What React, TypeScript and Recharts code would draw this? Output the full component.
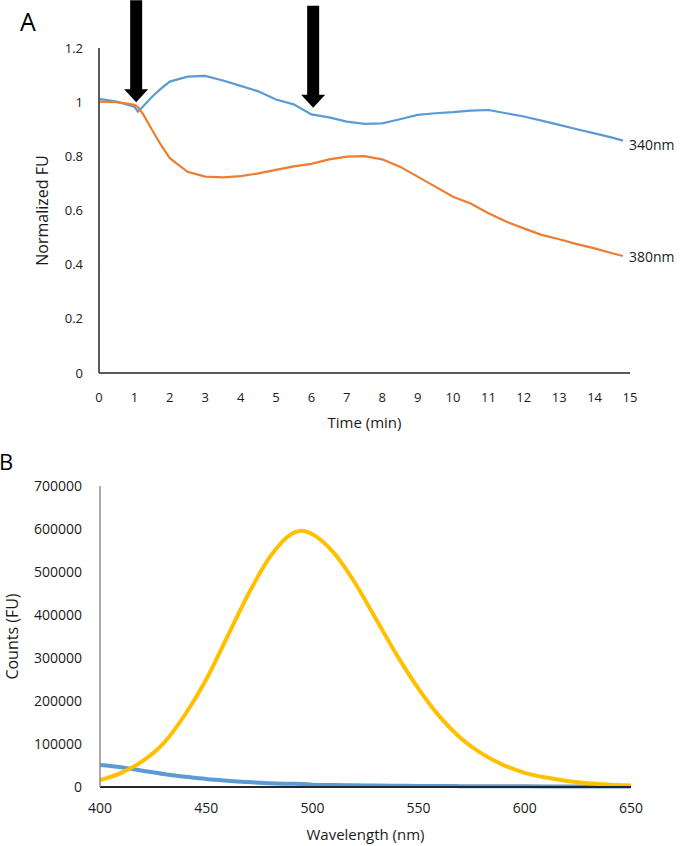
import React from "react";
import {
  LineChart,
  Line,
  XAxis,
  YAxis,
  ReferenceDot,
} from "recharts";

// Panel A: ratiometric trace, time in minutes
const timeMin = [
  0, 0.5, 1, 1.1, 1.25, 1.5, 1.75, 2, 2.5, 3, 3.5, 4, 4.5, 5, 5.5, 6, 6.5, 7,
  7.5, 8, 8.5, 9, 9.5, 10, 10.5, 11, 11.5, 12, 12.5, 13, 13.5, 14, 14.5, 14.8,
];
const fu340 = [
  1.012, 1.002, 0.983, 0.965, 0.985, 1.02, 1.05, 1.076, 1.094, 1.097, 1.08,
  1.06, 1.04, 1.01, 0.992, 0.955, 0.944, 0.928, 0.92, 0.922, 0.937, 0.953,
  0.959, 0.963, 0.969, 0.971, 0.959, 0.947, 0.932, 0.916, 0.9, 0.885, 0.869,
  0.858,
];
const fu380 = [
  1.002, 1.0, 0.99, 0.982, 0.955, 0.897, 0.842, 0.793, 0.743, 0.725, 0.722,
  0.727, 0.737, 0.75, 0.763, 0.772, 0.789, 0.799, 0.801, 0.789, 0.762, 0.725,
  0.688, 0.651, 0.626, 0.59, 0.559, 0.534, 0.51, 0.494, 0.476, 0.46, 0.442,
  0.432,
];
const timeTicks = [0, 1, 2, 3, 4, 5, 6, 7, 8, 9, 10, 11, 12, 13, 14, 15];
const fuTicks = [0, 0.2, 0.4, 0.6, 0.8, 1, 1.2];
// arrow tips (additions)
const arrowTime = [1.05, 6.05];
const arrowFu = [1.0, 0.979];

// Panel B: emission spectra
const wavelength = [
  400, 410, 420, 430, 440, 450, 460, 470, 480, 490, 495, 500, 510, 520, 530,
  540, 550, 560, 570, 580, 590, 600, 610, 620, 630, 640, 650,
];
const countsYellow = [
  16000, 33000, 60000, 102000, 168000, 250000, 350000, 450000, 535000, 588000,
  596000, 588000, 545000, 475000, 390000, 305000, 228000, 163000, 113000,
  77000, 51000, 33000, 22000, 14000, 8500, 5000, 3500,
];
const countsBlue = [
  51000, 46000, 38000, 30000, 24000, 18500, 14500, 11500, 8500, 7500, 7000,
  5500, 4500, 4000, 3500, 3000, 2500, 2200, 2000, 1800, 1600, 1500, 1400,
  1300, 1200, 1100, 1000,
];
const wlTicks = [400, 450, 500, 550, 600, 650];
const countTicks = [0, 100000, 200000, 300000, 400000, 500000, 600000, 700000];

const dataA = timeMin.map((t, i) => ({ t, a: fu340[i], b: fu380[i] }));
const dataB = wavelength.map((w, i) => ({ w, y: countsYellow[i], b: countsBlue[i] }));

const FONT = "'Open Sans', sans-serif";
const INK = "#1a1a1a";

const Arrow = (props: any) => {
  const { cx, cy } = props;
  const len = 102;
  const head = 13;
  const hw = 12;
  const sw = 6;
  const d = `M${cx},${cy} L${cx - hw},${cy - head} L${cx - sw},${cy - head} L${cx - sw},${cy - len} L${cx + sw},${cy - len} L${cx + sw},${cy - head} L${cx + hw},${cy - head} Z`;
  return <path d={d} fill="#000" />;
};

const yTitle = (text: string, dx: number) => (props: any) => {
  const vb = props.viewBox;
  const cx = vb.x + dx;
  const cy = vb.y + vb.height / 2;
  return (
    <text
      x={cx}
      y={cy}
      transform={`rotate(-90, ${cx}, ${cy})`}
      textAnchor="middle"
      dominantBaseline="central"
      fontFamily={FONT}
      fontSize={16}
      fill={INK}
    >
      {text}
    </text>
  );
};

const endLabel = (text: string, n: number, dy: number) => (p: any) => {
  if (p.index !== n - 1) return <g />;
  return (
    <text x={p.x + 6} y={p.y + dy} fontFamily={FONT} fontSize={14} fill={INK}>
      {text}
    </text>
  );
};

export default function App() {
  const tick13 = { fontFamily: FONT, fontSize: 13, fill: INK };
  const tick14 = { fontFamily: FONT, fontSize: 14, fill: INK };
  return (
    <div style={{ position: "absolute", left: 0, top: 0, width: 681, height: 846, background: "#fff" }}>
      <div style={{ position: "absolute", left: 20, top: 9, fontFamily: FONT, fontSize: 25, lineHeight: "25px", color: "#000" }}>A</div>
      <div style={{ position: "absolute", left: -1, top: 450, fontFamily: FONT, fontSize: 22, lineHeight: "22px", color: "#000" }}>B</div>

      <div style={{ position: "absolute", left: 0, top: 0 }}>
        <LineChart width={681} height={440} data={dataA} margin={{ top: 48, right: 51, bottom: 0, left: 39 }}>
          <XAxis
            dataKey="t"
            type="number"
            domain={[0, 15]}
            ticks={timeTicks}
            interval={0}
            height={67}
            tickLine={false}
            tickMargin={14}
            stroke="#595959"
            strokeWidth={2}
            tick={tick13}
            label={{ value: "Time (min)", position: "insideBottom", offset: 12, style: { fontFamily: FONT, fontSize: 15, fill: INK } }}
          />
          <YAxis
            type="number"
            domain={[0, 1.2]}
            ticks={fuTicks}
            interval={0}
            width={60}
            tickLine={false}
            tickMargin={10}
            stroke="#595959"
            strokeWidth={2}
            tick={tick13}
            label={{ content: yTitle("Normalized FU", 3) }}
          />
          <Line
            dataKey="a"
            stroke="#5B9BD5"
            strokeWidth={2.2}
            dot={false}
            type="linear"
            isAnimationActive={false}
            label={endLabel("340nm", timeMin.length, 9)}
          />
          <Line
            dataKey="b"
            stroke="#ED7D31"
            strokeWidth={2.2}
            dot={false}
            type="linear"
            isAnimationActive={false}
            label={endLabel("380nm", timeMin.length, 6)}
          />
          {arrowTime.map((t, i) => (
            <ReferenceDot key={i} x={t} y={arrowFu[i]} r={0} shape={Arrow} />
          ))}
        </LineChart>
      </div>

      <div style={{ position: "absolute", left: 0, top: 440 }}>
        <LineChart width={681} height={406} data={dataB} margin={{ top: 46, right: 50, bottom: 0, left: 10 }}>
          <XAxis
            dataKey="w"
            type="number"
            domain={[400, 650]}
            ticks={wlTicks}
            interval={0}
            height={59}
            tickLine={false}
            tickMargin={10}
            stroke="#262626"
            strokeWidth={2}
            tick={tick14}
            label={{ value: "Wavelength (nm)", position: "insideBottom", offset: 6, style: { fontFamily: FONT, fontSize: 15, fill: INK } }}
          />
          <YAxis
            type="number"
            domain={[0, 700000]}
            ticks={countTicks}
            interval={0}
            width={90}
            tickLine={false}
            tickMargin={12}
            stroke="#8c8c8c"
            strokeWidth={1.5}
            tick={tick14}
            label={{ content: yTitle("Counts (FU)", 2) }}
          />
          <Line dataKey="b" stroke="#5B9BD5" strokeWidth={4} dot={false} type="monotone" isAnimationActive={false} />
          <Line dataKey="y" stroke="#FFC000" strokeWidth={4} dot={false} type="monotone" isAnimationActive={false} />
        </LineChart>
      </div>
    </div>
  );
}
